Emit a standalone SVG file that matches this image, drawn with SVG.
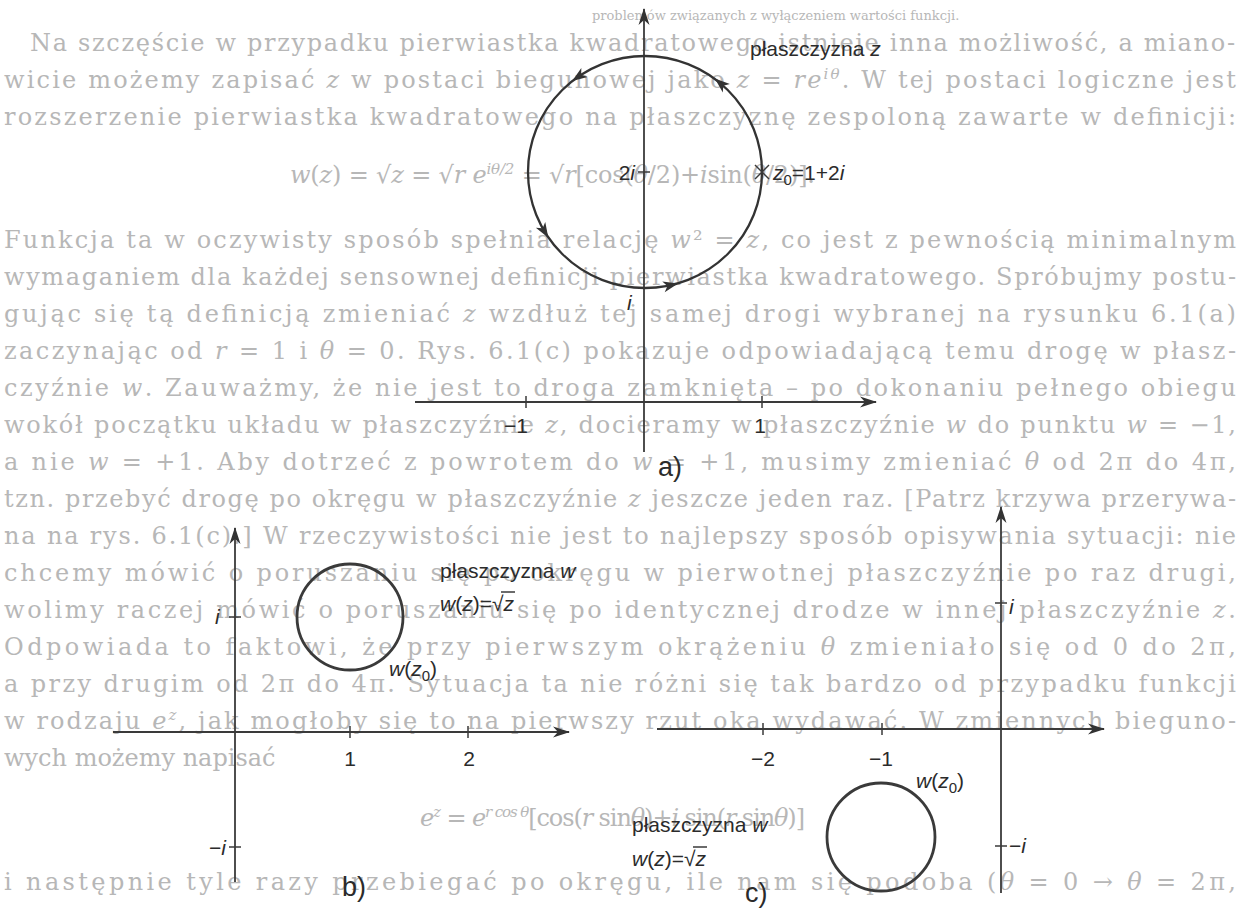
<svg xmlns="http://www.w3.org/2000/svg" width="1240" height="915" viewBox="0 0 1240 915">
<style>
.bg{font-family:"DejaVu Serif","Liberation Serif",serif;font-size:24px;fill:#b7b7b7}
.bgs{font-family:"DejaVu Serif","Liberation Serif",serif;font-size:13px;fill:#b7b7b7}
.bgi{font-style:italic}
.lbl{font-family:"Liberation Sans","DejaVu Sans",sans-serif;font-size:21px;fill:#2b2b2b}
.it{font-style:italic}
.cap{font-family:"Liberation Sans","DejaVu Sans",sans-serif;font-size:27px;fill:#2b2b2b}
.ax{stroke:#3a3a3a;stroke-width:1.8;fill:none}
.tk{stroke:#3a3a3a;stroke-width:1.5}
.crc{stroke:#333;stroke-width:2.3;fill:none}
.crc2{stroke:#3a3a3a;stroke-width:2.8;fill:none}
</style>
<defs>
<marker id="axarr" markerUnits="userSpaceOnUse" markerWidth="18" markerHeight="12" refX="16" refY="6" orient="auto">
<path d="M0,0.5 L17,6 L0,11.5 L5,6 Z" fill="#333"/>
</marker>
<path id="ah" d="M7,0 L-8,-5.5 L-4,0 L-8,5.5 Z" fill="#333"/>
</defs>
<rect x="0" y="0" width="1240" height="915" fill="#ffffff"/>

<g id="page-text">
<text class="bgs" x="592" y="20">problemów związanych z wyłączeniem wartości funkcji.</text>
<text class="bg" x="30" y="51" textLength="1205" lengthAdjust="spacing">Na szczęście w przypadku pierwiastka kwadratowego istnieje inna możliwość, a miano-</text>
<text class="bg" x="4" y="88" textLength="1232" lengthAdjust="spacing">wicie możemy zapisać <tspan class="bgi">z</tspan> w postaci biegunowej jako <tspan class="bgi">z</tspan> = <tspan class="bgi">re</tspan><tspan font-size="15" dy="-9" class="bgi">iθ</tspan><tspan dy="9">. W tej postaci logiczne jest</tspan></text>
<text class="bg" x="4" y="125" textLength="1232" lengthAdjust="spacing">rozszerzenie pierwiastka kwadratowego na płaszczyznę zespoloną zawarte w definicji:</text>
<text class="bg" x="290" y="183" textLength="525" lengthAdjust="spacing"><tspan class="bgi">w</tspan>(<tspan class="bgi">z</tspan>) = √<tspan class="bgi">z</tspan> = √<tspan class="bgi">r e</tspan><tspan font-size="15" dy="-9" class="bgi">iθ/2</tspan><tspan dy="9"> = √</tspan><tspan class="bgi">r</tspan>[cos(<tspan class="bgi">θ</tspan>/2)+<tspan class="bgi">i</tspan>sin(<tspan class="bgi">θ</tspan>/2)].</text>
<text class="bg" x="4" y="248" textLength="1232" lengthAdjust="spacing">Funkcja ta w oczywisty sposób spełnia relację <tspan class="bgi">w</tspan>² = <tspan class="bgi">z</tspan>, co jest z pewnością minimalnym</text>
<text class="bg" x="4" y="285" textLength="1232" lengthAdjust="spacing">wymaganiem dla każdej sensownej definicji pierwiastka kwadratowego. Spróbujmy postu-</text>
<text class="bg" x="4" y="322" textLength="1232" lengthAdjust="spacing">gując się tą definicją zmieniać <tspan class="bgi">z</tspan> wzdłuż tej samej drogi wybranej na rysunku 6.1(a)</text>
<text class="bg" x="4" y="359" textLength="1232" lengthAdjust="spacing">zaczynając od <tspan class="bgi">r</tspan> = 1 i <tspan class="bgi">θ</tspan> = 0. Rys. 6.1(c) pokazuje odpowiadającą temu drogę w płasz-</text>
<text class="bg" x="4" y="396" textLength="1232" lengthAdjust="spacing">czyźnie <tspan class="bgi">w</tspan>. Zauważmy, że nie jest to droga zamknięta – po dokonaniu pełnego obiegu</text>
<text class="bg" x="4" y="433" textLength="1232" lengthAdjust="spacing">wokół początku układu w płaszczyźnie <tspan class="bgi">z</tspan>, docieramy w płaszczyźnie <tspan class="bgi">w</tspan> do punktu <tspan class="bgi">w</tspan> = −1,</text>
<text class="bg" x="4" y="470" textLength="1232" lengthAdjust="spacing">a nie <tspan class="bgi">w</tspan> = +1. Aby dotrzeć z powrotem do <tspan class="bgi">w</tspan> = +1, musimy zmieniać <tspan class="bgi">θ</tspan> od 2π do 4π,</text>
<text class="bg" x="4" y="507" textLength="1232" lengthAdjust="spacing">tzn. przebyć drogę po okręgu w płaszczyźnie <tspan class="bgi">z</tspan> jeszcze jeden raz. [Patrz krzywa przerywa-</text>
<text class="bg" x="4" y="544" textLength="1232" lengthAdjust="spacing">na na rys. 6.1(c).] W rzeczywistości nie jest to najlepszy sposób opisywania sytuacji: nie</text>
<text class="bg" x="4" y="581" textLength="1232" lengthAdjust="spacing">chcemy mówić o poruszaniu się po okręgu w pierwotnej płaszczyźnie po raz drugi,</text>
<text class="bg" x="4" y="618" textLength="1232" lengthAdjust="spacing">wolimy raczej mówić o poruszaniu się po identycznej drodze w innej płaszczyźnie <tspan class="bgi">z</tspan>.</text>
<text class="bg" x="4" y="655" textLength="1232" lengthAdjust="spacing">Odpowiada to faktowi, że przy pierwszym okrążeniu <tspan class="bgi">θ</tspan> zmieniało się od 0 do 2π,</text>
<text class="bg" x="4" y="692" textLength="1232" lengthAdjust="spacing">a przy drugim od 2π do 4π. Sytuacja ta nie różni się tak bardzo od przypadku funkcji</text>
<text class="bg" x="4" y="729" textLength="1232" lengthAdjust="spacing">w rodzaju <tspan class="bgi">e</tspan><tspan font-size="15" dy="-9" class="bgi">z</tspan><tspan dy="9">, jak mogłoby się to na pierwszy rzut oka wydawać. W zmiennych bieguno-</tspan></text>
<text class="bg" x="4" y="766">wych możemy napisać</text>
<text class="bg" x="420" y="826" textLength="385" lengthAdjust="spacing"><tspan class="bgi">e</tspan><tspan font-size="15" dy="-9" class="bgi">z</tspan><tspan dy="9"> = </tspan><tspan class="bgi">e</tspan><tspan font-size="15" dy="-9" class="bgi">r cos θ</tspan><tspan dy="9">[cos(</tspan><tspan class="bgi">r</tspan> sin<tspan class="bgi">θ</tspan>)+<tspan class="bgi">i</tspan> sin(<tspan class="bgi">r</tspan> sin<tspan class="bgi">θ</tspan>)]</text>
<text class="bg" x="4" y="890" textLength="1232" lengthAdjust="spacing">i następnie tyle razy przebiegać po okręgu, ile nam się podoba (<tspan class="bgi">θ</tspan> = 0 → <tspan class="bgi">θ</tspan> = 2π,</text>
</g>

<g id="fig-a">
<line class="ax" x1="644" y1="452" x2="644" y2="9" marker-end="url(#axarr)"/>
<line class="ax" x1="415" y1="402" x2="876" y2="402" marker-end="url(#axarr)"/>
<line class="tk" x1="526" y1="396" x2="526" y2="408"/>
<line class="tk" x1="762" y1="396" x2="762" y2="408"/>
<line class="tk" x1="638" y1="172" x2="650" y2="172"/>
<line class="tk" x1="638" y1="288" x2="650" y2="288"/>
<ellipse class="crc" cx="645" cy="172" rx="117" ry="116"/>
<use href="#ah" transform="translate(720.2,83.1) rotate(219.8)"/>
<use href="#ah" transform="translate(577.9,77) rotate(145.2)"/>
<use href="#ah" transform="translate(544.7,231.7) rotate(58.8)"/>
<use href="#ah" transform="translate(671.3,285) rotate(-12.9)"/>
<line class="tk" x1="755" y1="165" x2="769" y2="179"/>
<line class="tk" x1="769" y1="165" x2="755" y2="179"/>
<text class="lbl" x="750" y="56">płaszczyzna <tspan class="it">z</tspan></text>
<text class="lbl" x="635" y="180" text-anchor="end">2<tspan class="it">i</tspan></text>
<text class="lbl" x="773" y="180"><tspan class="it">z</tspan><tspan font-size="15" dy="5">0</tspan><tspan dy="-5">=1+2</tspan><tspan class="it">i</tspan></text>
<text class="lbl it" x="627" y="310">i</text>
<text class="lbl" x="516" y="433" text-anchor="middle">−1</text>
<text class="lbl" x="760" y="433" text-anchor="middle">1</text>
<text class="cap" x="658" y="476">a)</text>
</g>

<g id="fig-b">
<line class="ax" x1="235" y1="882" x2="235" y2="528" marker-end="url(#axarr)"/>
<line class="ax" x1="113" y1="732" x2="569" y2="732" marker-end="url(#axarr)"/>
<line class="tk" x1="350" y1="726" x2="350" y2="738"/>
<line class="tk" x1="468" y1="726" x2="468" y2="738"/>
<line class="tk" x1="229" y1="617" x2="241" y2="617"/>
<line class="tk" x1="229" y1="847" x2="241" y2="847"/>
<circle class="crc2" cx="350" cy="617" r="53"/>
<text class="lbl" x="440" y="578">płaszczyzna <tspan class="it">w</tspan></text>
<text class="lbl" x="440" y="611"><tspan class="it">w</tspan>(<tspan class="it">z</tspan>)=√<tspan class="it">z</tspan></text>
<line class="tk" x1="501" y1="592" x2="515" y2="592"/>
<text class="lbl" x="389" y="676"><tspan class="it">w</tspan>(<tspan class="it">z</tspan><tspan font-size="15" dy="5">0</tspan><tspan dy="-5">)</tspan></text>
<text class="lbl it" x="215" y="624">i</text>
<text class="lbl" x="226" y="855" text-anchor="end">−<tspan class="it">i</tspan></text>
<text class="lbl" x="350" y="766" text-anchor="middle">1</text>
<text class="lbl" x="469" y="766" text-anchor="middle">2</text>
<text class="cap" x="342" y="896">b)</text>
</g>

<g id="fig-c">
<line class="ax" x1="1001" y1="893" x2="1001" y2="507" marker-end="url(#axarr)"/>
<line class="ax" x1="657" y1="729" x2="1104" y2="729" marker-end="url(#axarr)"/>
<line class="tk" x1="763" y1="723" x2="763" y2="735"/>
<line class="tk" x1="882" y1="723" x2="882" y2="735"/>
<line class="tk" x1="995" y1="603" x2="1007" y2="603"/>
<line class="tk" x1="995" y1="846" x2="1007" y2="846"/>
<circle class="crc2" cx="881" cy="837" r="54"/>
<text class="lbl" x="916" y="788"><tspan class="it">w</tspan>(<tspan class="it">z</tspan><tspan font-size="15" dy="5">0</tspan><tspan dy="-5">)</tspan></text>
<text class="lbl" x="632" y="832">płaszczyzna <tspan class="it">w</tspan></text>
<text class="lbl" x="632" y="866"><tspan class="it">w</tspan>(<tspan class="it">z</tspan>)=√<tspan class="it">z</tspan></text>
<line class="tk" x1="693" y1="847" x2="707" y2="847"/>
<text class="lbl it" x="1009" y="614">i</text>
<text class="lbl" x="1009" y="853">−<tspan class="it">i</tspan></text>
<text class="lbl" x="763" y="766" text-anchor="middle">−2</text>
<text class="lbl" x="881" y="766" text-anchor="middle">−1</text>
<text class="cap" x="745" y="902">c)</text>
</g>
</svg>
